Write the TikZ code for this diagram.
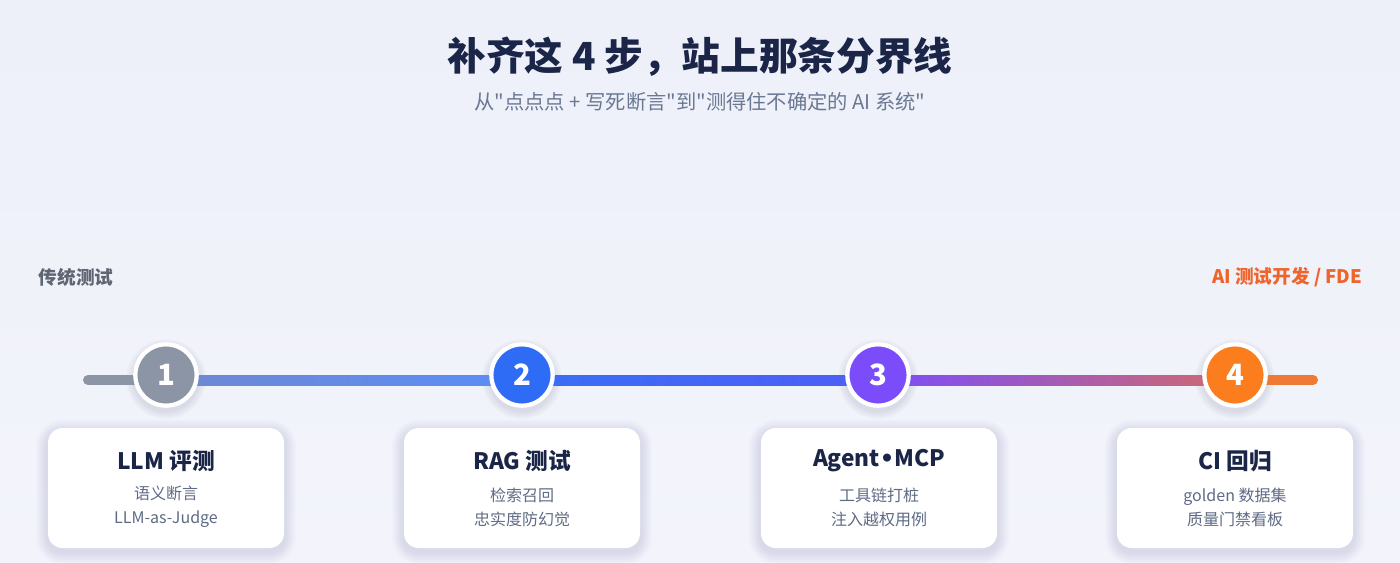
\documentclass[tikz,border=0pt]{standalone}
\usepackage{fontspec}
\setmainfont{Noto Sans CJK SC}[Ligatures=TeXOff]
\newfontfamily\latinfont{DejaVu Sans}
\usetikzlibrary{positioning}

\definecolor{bgtop}{HTML}{EDF0F9}
\definecolor{bgbot}{HTML}{F3F4FB}
\definecolor{navy}{HTML}{1B2547}
\definecolor{shadowc}{HTML}{2A3460}
\definecolor{subgray}{HTML}{6B7893}
\definecolor{oldgray}{HTML}{5F6673}
\definecolor{newred}{HTML}{F0642C}
\definecolor{cardsubc}{HTML}{5F6B85}
\definecolor{dotone}{HTML}{8B95A5}
\definecolor{dottwo}{HTML}{2F6CF6}
\definecolor{dotthree}{HTML}{7B4DFA}
\definecolor{dotfour}{HTML}{FB7D1E}
\definecolor{segonea}{HTML}{6E88D2}
\definecolor{segoneb}{HTML}{5B8EF6}
\definecolor{segtwoa}{HTML}{3A6EF5}
\definecolor{segtwob}{HTML}{4E5EF6}
\definecolor{segthreea}{HTML}{7A4DFB}
\definecolor{segthreeb}{HTML}{D06A6E}
\definecolor{segfour}{HTML}{EE7A36}

\pgfdeclarelayer{back}
\pgfdeclarelayer{shade}
\pgfsetlayers{back,shade,main}

\tikzset{
  stepdot/.style={circle, draw=white, line width=3.2pt, minimum size=46pt,
    inner sep=0pt, text=white, font=\fontsize{22}{22}\selectfont\bfseries},
  card/.style={rectangle, rounded corners=11pt, fill=white,
    minimum width=177pt, minimum height=90pt},
  cardtitle/.style={font=\fontsize{17}{20}\selectfont\bfseries, text=navy},
  cardsub/.style={font=\fontsize{12}{18}\selectfont, text=cardsubc, align=center},
  sidelabel/.style={font=\fontsize{14}{16}\selectfont\bfseries},
  soft/.style={shadowc, fill opacity=0.012},
}

\begin{document}
\begin{tikzpicture}[x=0.75pt, y=-0.75pt]

% background
\begin{pgfonlayer}{back}
\shade[top color=bgtop, bottom color=bgbot] (0,0) rectangle (1400,563);
\end{pgfonlayer}
\useasboundingbox (0,0) rectangle (1400,563);

% heading
\node[font=\fontsize{29}{32}\selectfont\bfseries, text=navy] (title) at (700,57)
  {补齐这 4 步，站上那条分界线};
\node[font=\fontsize{15.2}{18}\selectfont, text=subgray] (subtitle) at (700,102)
  {从"点点点 + 写死断言"到"测得住不确定的 AI 系统"};

% both ends
\node[sidelabel, text=oldgray, anchor=west] (old) at (34,277) {传统测试};
\node[sidelabel, text=newred, anchor=east] (new) at (1367,277) {AI 测试开发 / FDE};

% the line
\coordinate (l0) at (88,380);
\coordinate (l5) at (1313,380);
\draw[line width=7.5pt, line cap=round, dotone] (l0) -- (166,380);
\shade[left color=segonea, right color=segoneb] (166,375) rectangle (522,385);
\shade[left color=segtwoa, right color=segtwob] (522,375) rectangle (878,385);
\shade[left color=segthreea, right color=segthreeb] (878,375) rectangle (1235,385);
\draw[line width=7.5pt, line cap=round, segfour] (1235,380) -- (l5);

% steps
\node[stepdot, fill=dotone] (s1) at (166,375) {1};
\node[stepdot, fill=dottwo] (s2) at (522,375) {2};
\node[stepdot, fill=dotthree] (s3) at (878,375) {3};
\node[stepdot, fill=dotfour] (s4) at (1235,375) {4};

% cards
\node[card] (k1) at (166,488) {};
\node[card] (k2) at (522,488) {};
\node[card] (k3) at (879,488) {};
\node[card] (k4) at (1235,488) {};

\node[cardtitle] (t1) at (166,461) {LLM 评测};
\node[cardtitle] (t2) at (522,461) {RAG 测试};
\node[cardtitle] (t3) at (879,461) {Agent{\latinfont\bfseries •}MCP};
\node[cardtitle] (t4) at (1235,461) {CI 回归};

\node[cardsub] (d1) at (166,507) {语义断言\\LLM-as-Judge};
\node[cardsub] (d2) at (522,507) {检索召回\\忠实度防幻觉};
\node[cardsub] (d3) at (879,507) {工具链打桩\\注入越权用例};
\node[cardsub] (d4) at (1235,507) {golden 数据集\\质量门禁看板};

% soft shadows
\begin{pgfonlayer}{shade}
\foreach \k in {k1,k2,k3,k4}
  \foreach \g in {1,...,9}
    \fill[soft, rounded corners=11pt+\g pt]
      ([shift={(-\g pt,\g pt-3pt)}]\k.north west)
      rectangle ([shift={(\g pt,-\g pt-3pt)}]\k.south east);
\foreach \s in {s1,s2,s3,s4}
  \foreach \g in {1,...,6}
    \fill[soft, fill opacity=0.02] ([yshift=-3pt]\s.center) circle[radius=24pt+\g pt];
\end{pgfonlayer}

\end{tikzpicture}
\end{document}
